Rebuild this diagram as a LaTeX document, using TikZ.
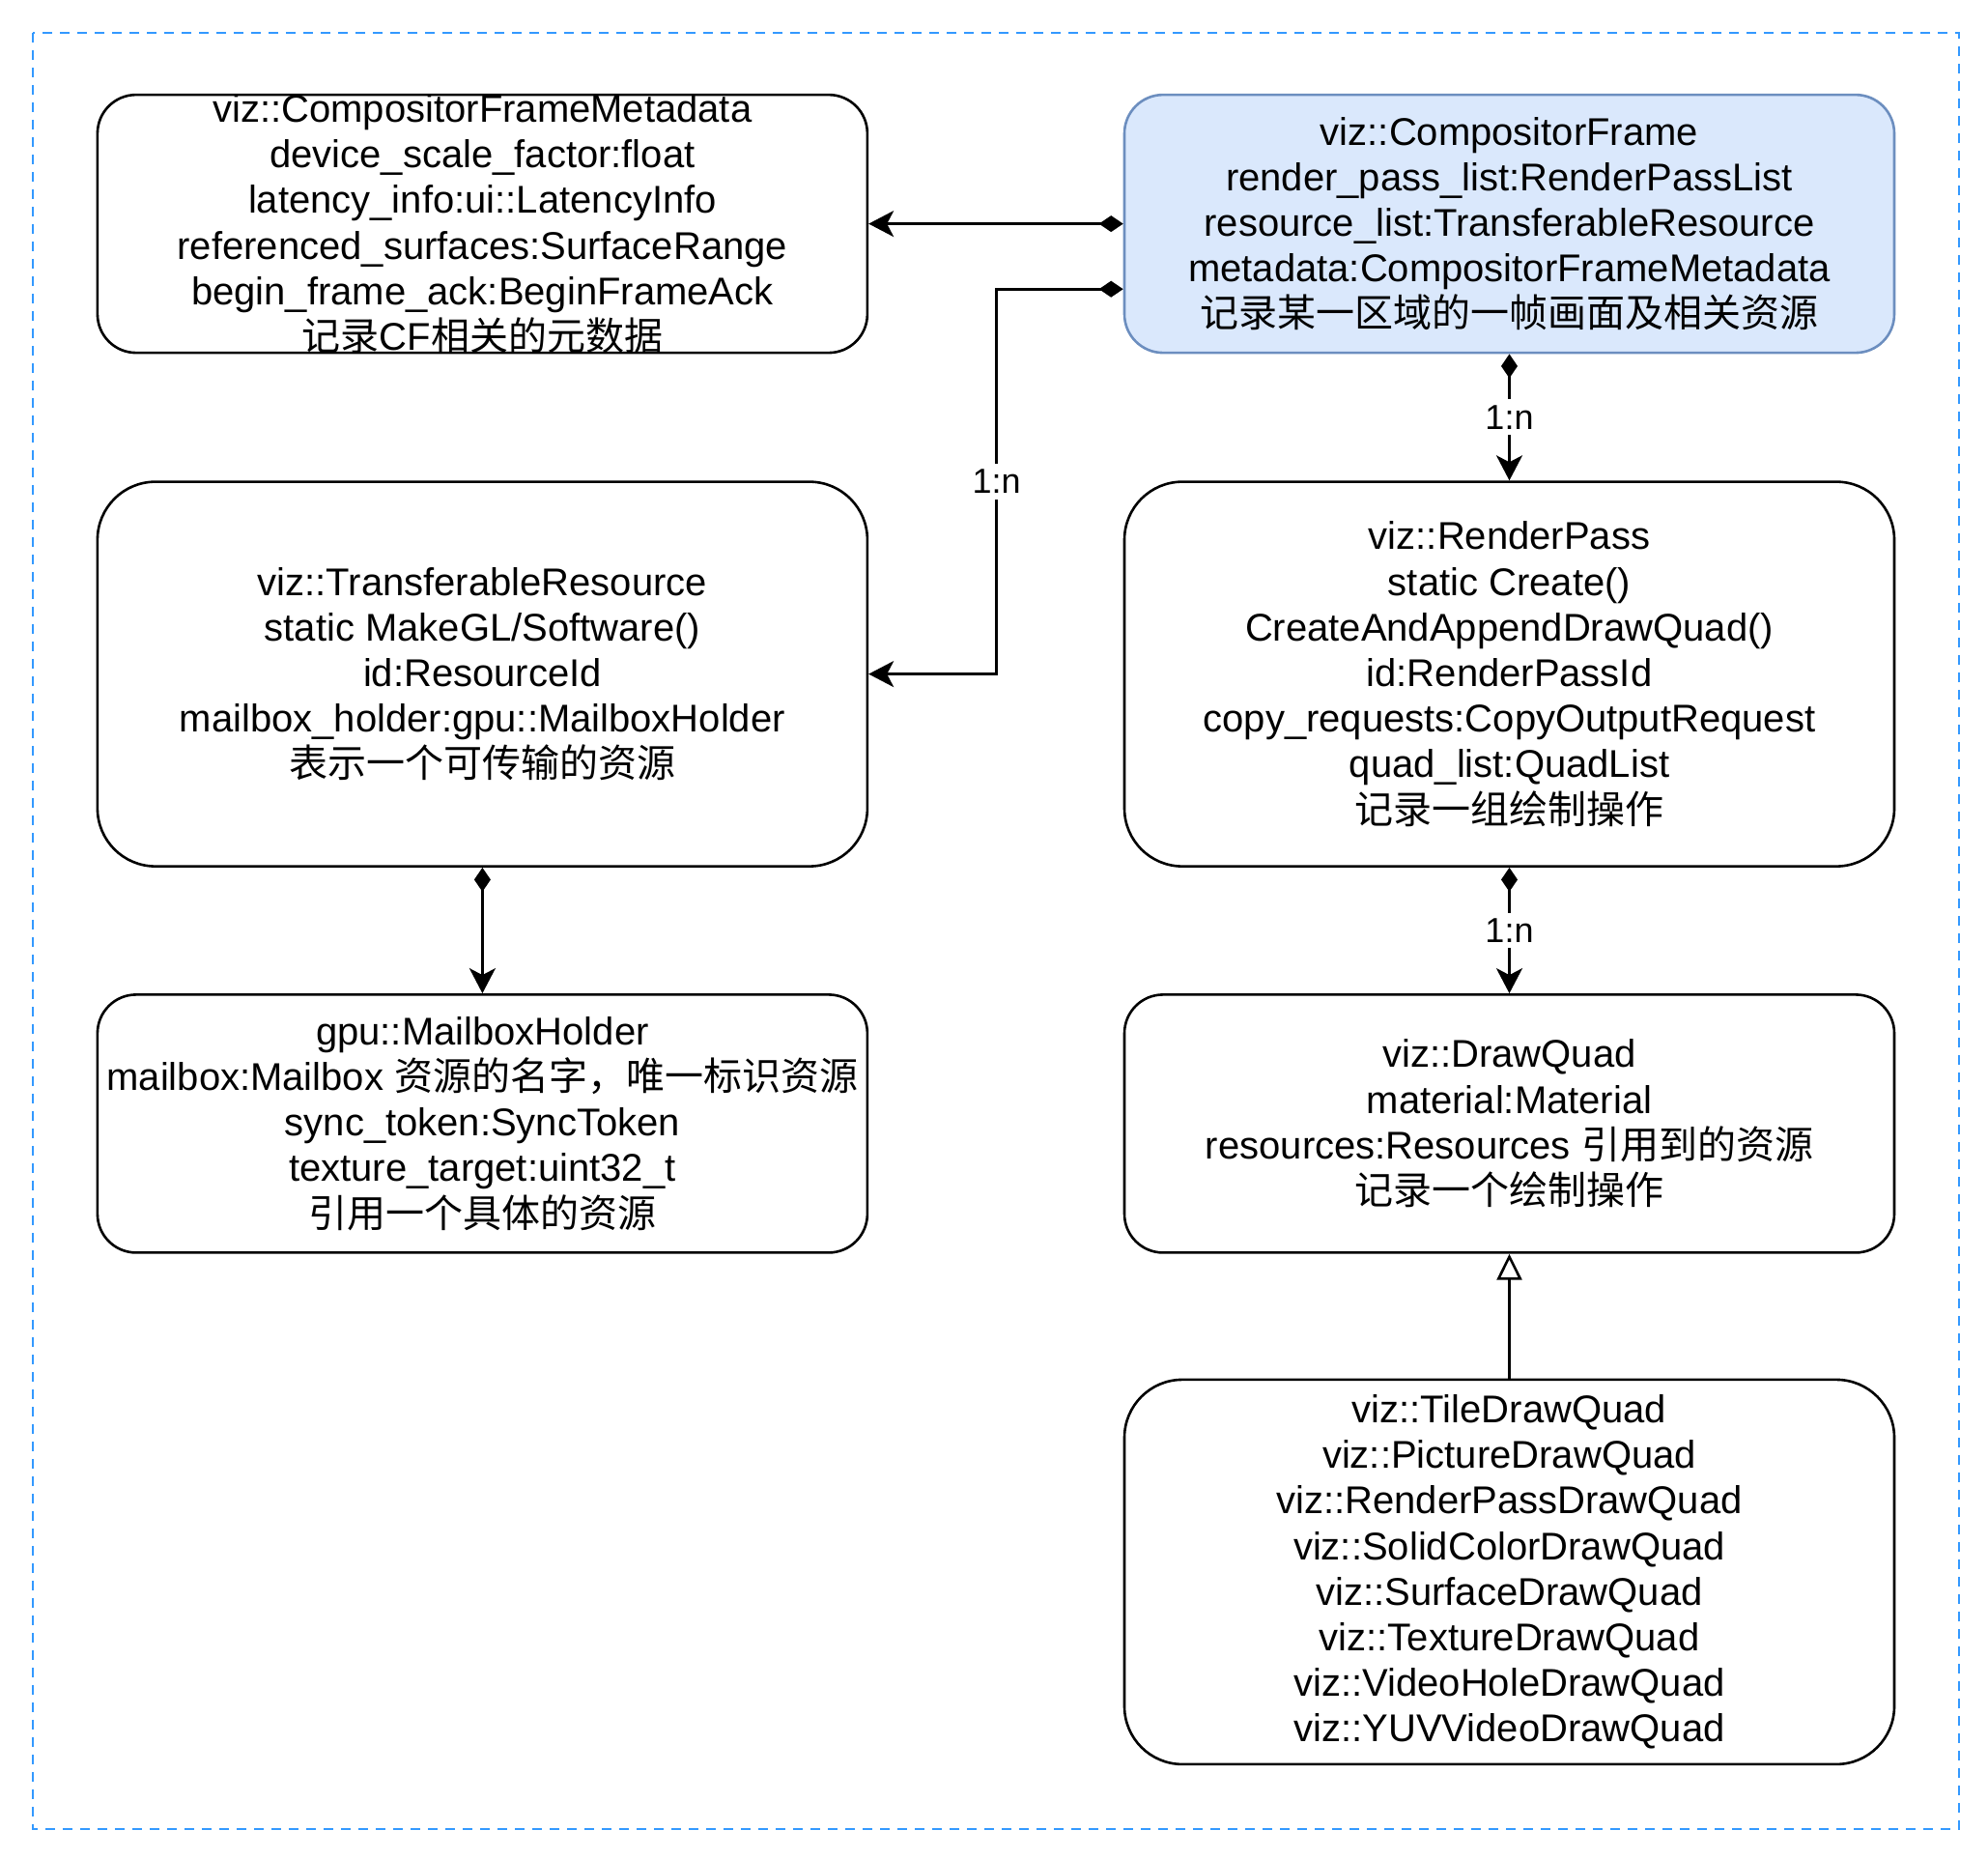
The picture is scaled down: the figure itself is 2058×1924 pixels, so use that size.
\documentclass[tikz,border=0pt]{standalone}
\usepackage{fontspec}
\setmainfont{Liberation Sans}
\newfontfamily\cjk{Noto Sans CJK SC}
\usepackage{tikz}
\usetikzlibrary{arrows.meta,calc}
\definecolor{cffill}{HTML}{DAE8FC}
\definecolor{cfline}{HTML}{6C8EBF}
\definecolor{edgeblue}{HTML}{3399FF}

\begin{document}
\begin{tikzpicture}[x=0.5pt, y=-0.5pt, line width=1.3pt,
  cls/.style={draw, rounded corners=20pt, minimum width=398.5pt, minimum height=133.5pt, inner sep=0pt, align=center, font=\fontsize{20}{23.6}\selectfont},
  tall/.style={cls, rounded corners=30pt, minimum height=199pt},
  txt/.style={align=center, inner sep=0pt, font=\fontsize{20}{23.6}\selectfont},
  lbl/.style={fill=white, inner sep=3pt, font=\fontsize{18}{20}\selectfont},
  comp/.style={{Diamond[length=12.5pt,width=8.5pt]}-{Stealth[length=13pt,width=13.5pt,inset=3.5pt]}},
  inherit/.style={-{Triangle[open,length=13.5pt,width=13pt]}}]
  \useasboundingbox (0,0) rectangle (2058,1924);
  \draw[edgeblue, line width=1pt, dash pattern=on 5pt off 4pt] (34,34) rectangle (2028,1893);
  % top row
  \node[cls] (meta) at (499.4,231.6) {};
  \node[txt] (metaT) at (meta) {viz::CompositorFrameMetadata\\device\_scale\_factor:float\\latency\_info:ui::LatencyInfo\\referenced\_surfaces:SurfaceRange\\begin\_frame\_ack:BeginFrameAck\\{\cjk 记录}CF{\cjk 相关的元数据}};
  \node[cls, draw=cfline, fill=cffill] (cf) at (1562.5,231.6) {viz::CompositorFrame\\render\_pass\_list:RenderPassList\\resource\_list:TransferableResource\\metadata:CompositorFrameMetadata\\{\cjk 记录某一区域的一帧画面及相关资源}};
  % middle row
  \node[tall] (tr) at (499.4,697.6) {viz::TransferableResource\\static MakeGL/Software()\\id:ResourceId\\mailbox\_holder:gpu::MailboxHolder\\{\cjk 表示一个可传输的资源}};
  \node[tall] (rp) at (1562.5,697.6) {viz::RenderPass\\static Create()\\CreateAndAppendDrawQuad()\\id:RenderPassId\\copy\_requests:CopyOutputRequest\\quad\_list:QuadList\\{\cjk 记录一组绘制操作}};
  % lower rows
  \node[cls] (mh) at (499.4,1162.9) {gpu::MailboxHolder\\mailbox:Mailbox {\cjk 资源的名字，唯一标识资源}\\sync\_token:SyncToken\\texture\_target:uint32\_t\\{\cjk 引用一个具体的资源}};
  \node[cls] (dq) at (1562.5,1162.9) {viz::DrawQuad\\material:Material\\resources:Resources {\cjk 引用到的资源}\\{\cjk 记录一个绘制操作}};
  \node[tall] (quads) at (1562.5,1626.9) {viz::TileDrawQuad\\viz::PictureDrawQuad\\viz::RenderPassDrawQuad\\viz::SolidColorDrawQuad\\viz::SurfaceDrawQuad\\viz::TextureDrawQuad\\viz::VideoHoleDrawQuad\\viz::YUVVideoDrawQuad};
  % connectors
  \coordinate (bend) at (1031.6,299.2);
  \draw[comp] (cf.west) -- (meta.east);
  \draw[comp] (cf.west |- bend) -- (bend) |- node[lbl, pos=0.25] (l1) {1:n} (tr.east);
  \draw[comp] (cf.south) -- node[lbl] (l2) {1:n} (rp.north);
  \draw[comp] (tr.south) -- (mh.north);
  \draw[comp] (rp.south) -- node[lbl] (l3) {1:n} (dq.north);
  \draw[inherit] (quads.north) -- (dq.south);
\end{tikzpicture}
\end{document}
